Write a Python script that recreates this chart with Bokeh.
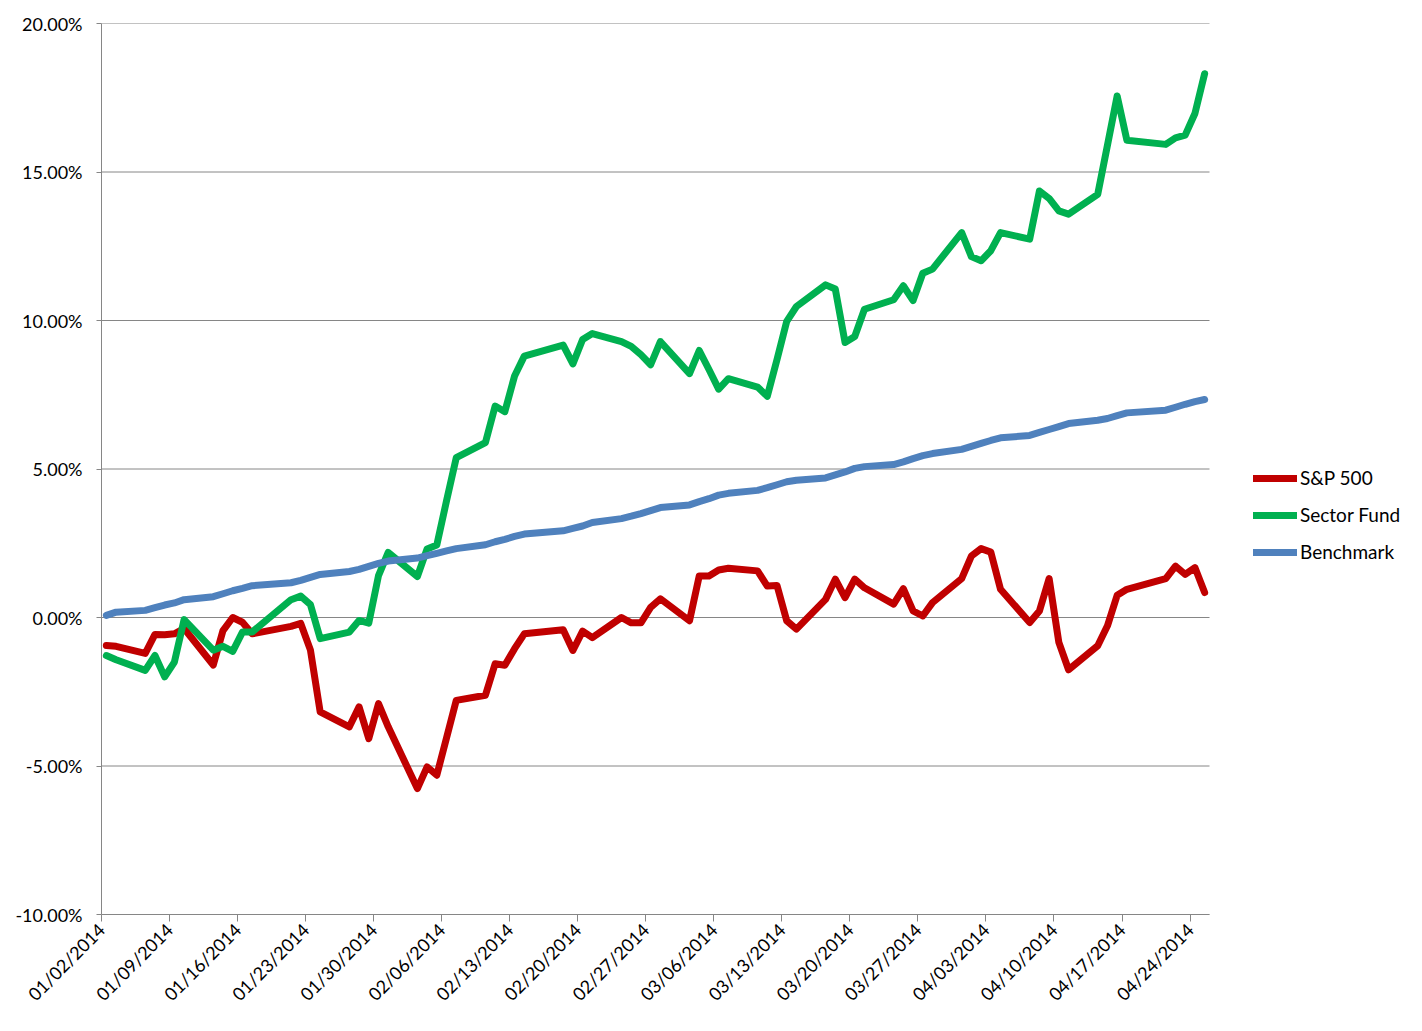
import math
import pandas as pd
from bokeh.plotting import figure
from bokeh.models import (Range1d, FixedTicker, PrintfTickFormatter, Legend,
                          LegendItem, ColumnDataSource)
from bokeh.embed import file_html
from bokeh.resources import INLINE

# ---------------- data ----------------
dates = [
    "2014-01-02", "2014-01-03", "2014-01-06", "2014-01-07", "2014-01-08", "2014-01-09", "2014-01-10",
    "2014-01-13", "2014-01-14", "2014-01-15", "2014-01-16", "2014-01-17", "2014-01-21", "2014-01-22",
    "2014-01-23", "2014-01-24", "2014-01-27", "2014-01-28", "2014-01-29", "2014-01-30", "2014-01-31",
    "2014-02-03", "2014-02-04", "2014-02-05", "2014-02-06", "2014-02-07", "2014-02-10", "2014-02-11",
    "2014-02-12", "2014-02-13", "2014-02-14", "2014-02-18", "2014-02-19", "2014-02-20", "2014-02-21",
    "2014-02-24", "2014-02-25", "2014-02-26", "2014-02-27", "2014-02-28",
    "2014-03-03", "2014-03-04", "2014-03-05", "2014-03-06", "2014-03-07", "2014-03-10", "2014-03-11",
    "2014-03-12", "2014-03-13", "2014-03-14", "2014-03-17", "2014-03-18", "2014-03-19", "2014-03-20",
    "2014-03-21", "2014-03-24", "2014-03-25", "2014-03-26", "2014-03-27", "2014-03-28", "2014-03-31",
    "2014-04-01", "2014-04-02", "2014-04-03", "2014-04-04", "2014-04-07", "2014-04-08", "2014-04-09",
    "2014-04-10", "2014-04-11", "2014-04-14", "2014-04-15", "2014-04-16", "2014-04-17", "2014-04-21",
    "2014-04-22", "2014-04-23", "2014-04-24", "2014-04-25",
]

sp500 = [
    -0.94, -0.97, -1.21, -0.57, -0.58, -0.55, -0.37, -1.60, -0.44, 0.00, -0.16, -0.55, -0.30, -0.20,
    -1.10, -3.18, -3.68, -3.01, -4.08, -2.90, -3.68,
    -5.76, -5.03, -5.31, -4.05, -2.79, -2.62, -1.56, -1.61, -1.05, -0.55, -0.41, -1.11, -0.46, -0.68,
    0.00, -0.18, -0.18, 0.34, 0.63,
    -0.11, 1.40, 1.40, 1.60, 1.66, 1.57, 1.06, 1.08, -0.11, -0.39, 0.61, 1.29, 0.67, 1.29,
    1.00, 0.45, 0.97, 0.22, 0.05, 0.50, 1.31,
    2.07, 2.32, 2.20, 0.95, -0.17, 0.22, 1.31, -0.84, -1.76, -0.95, -0.28, 0.75, 0.95, 1.31,
    1.73, 1.45, 1.68, 0.84,
]

sector_fund = [
    -1.28, -1.42, -1.78, -1.28, -2.00, -1.50, -0.07, -1.10, -0.97, -1.14, -0.49, -0.49, 0.60, 0.72,
    0.43, -0.71, -0.49, -0.10, -0.19, 1.41, 2.19,
    1.38, 2.31, 2.44, 3.93, 5.38, 5.89, 7.12, 6.93, 8.13, 8.80, 9.17, 8.54, 9.36, 9.56,
    9.29, 9.13, 8.85, 8.51, 9.29,
    8.21, 8.99, 8.35, 7.69, 8.04, 7.76, 7.45, 8.68, 9.97, 10.47, 11.20, 11.06, 9.26, 9.46,
    10.38, 10.70, 11.17, 10.67, 11.59, 11.73, 12.96,
    12.15, 12.01, 12.35, 12.96, 12.74, 14.36, 14.11, 13.69, 13.58, 14.25, 15.90, 17.56, 16.07, 15.93,
    16.15, 16.24, 16.97, 18.31,
]

benchmark = [
    0.07, 0.18, 0.24, 0.33, 0.42, 0.49, 0.60, 0.70, 0.80, 0.90, 0.98, 1.07, 1.17, 1.25,
    1.35, 1.45, 1.55, 1.62, 1.72, 1.82, 1.90,
    2.00, 2.08, 2.16, 2.24, 2.32, 2.45, 2.55, 2.63, 2.73, 2.81, 2.92, 3.00, 3.08, 3.20,
    3.33, 3.41, 3.50, 3.60, 3.70,
    3.79, 3.90, 4.00, 4.12, 4.18, 4.28, 4.37, 4.47, 4.57, 4.62, 4.70, 4.80, 4.90, 5.02,
    5.08, 5.15, 5.24, 5.35, 5.45, 5.52, 5.66,
    5.76, 5.86, 5.96, 6.05, 6.13, 6.23, 6.33, 6.43, 6.53, 6.64, 6.70, 6.80, 6.89, 6.98,
    7.08, 7.18, 7.27, 7.34,
]

x_tick_labels = [
    "01/02/2014", "01/09/2014", "01/16/2014", "01/23/2014", "01/30/2014", "02/06/2014",
    "02/13/2014", "02/20/2014", "02/27/2014", "03/06/2014", "03/13/2014", "03/20/2014",
    "03/27/2014", "04/03/2014", "04/10/2014", "04/17/2014", "04/24/2014",
]
y_ticks = [-10, -5, 0, 5, 10, 15, 20]

series_names = ["S&P 500", "Sector Fund", "Benchmark"]
series_colors = ["#C00000", "#00B050", "#4F81BD"]

# ---------------- build ----------------
start = pd.Timestamp("2014-01-02")
day_pos = [(pd.Timestamp(d) - start).days + 0.5 for d in dates]   # centre of each day slot
tick_pos = [(pd.to_datetime(l, format="%m/%d/%Y") - start).days for l in x_tick_labels]
last_day = (pd.Timestamp(dates[-1]) - start).days + 1

src = ColumnDataSource(dict(x=day_pos, sp=sp500, sf=sector_fund, bm=benchmark))

W, H = 1406, 1015
BL, BT, BB = 101, 23, 100
plot_px = 1108                       # width of the data area in pixels
frame_w = W - BL                     # frame runs to the right edge (legend lives there)
x_end = last_day * frame_w / plot_px

p = figure(width=W, height=H, output_backend="svg", toolbar_location=None,
           x_range=Range1d(0, x_end), y_range=Range1d(-10, 20),
           min_border_left=BL, min_border_right=0, min_border_top=BT,
           min_border_bottom=BB)
p.outline_line_color = None
p.background_fill_color = "white"
p.border_fill_color = "white"

grey = "#868686"
font = "Lato"

# horizontal grid lines limited to the data area
p.segment(x0=[0] * len(y_ticks), x1=[last_day] * len(y_ticks), y0=y_ticks, y1=y_ticks,
          line_color=grey, line_width=1)

renderers = []
for col, color in zip(["sp", "sf", "bm"], series_colors):
    r = p.line("x", col, source=src, line_color=color, line_width=7,
               line_join="round", line_cap="round")
    renderers.append(r)

# y axis
p.yaxis.ticker = FixedTicker(ticks=y_ticks)
p.yaxis.formatter = PrintfTickFormatter(format="%.2f%%")
p.yaxis.axis_line_color = grey
p.yaxis.major_tick_line_color = grey
p.yaxis.minor_tick_line_color = None
p.yaxis.major_tick_in = 0
p.yaxis.major_tick_out = 5
p.yaxis.major_label_standoff = 14
p.yaxis.major_label_text_font = font
p.yaxis.major_label_text_font_size = "18px"
p.yaxis.major_label_text_color = "black"

# x axis
p.xaxis.bounds = (0, last_day)
p.xaxis.ticker = FixedTicker(ticks=tick_pos)
p.xaxis.major_label_overrides = {t: l for t, l in zip(tick_pos, x_tick_labels)}
p.xaxis.major_label_orientation = math.pi / 4
p.xaxis.axis_line_color = grey
p.xaxis.major_tick_line_color = grey
p.xaxis.minor_tick_line_color = None
p.xaxis.major_tick_in = 0
p.xaxis.major_tick_out = 7
p.xaxis.major_label_standoff = 5
p.xaxis.major_label_text_font = font
p.xaxis.major_label_text_font_size = "18px"
p.xaxis.major_label_text_color = "black"

p.xgrid.visible = False
p.ygrid.visible = False

legend = Legend(
    items=[LegendItem(label=n, renderers=[r]) for n, r in zip(series_names, renderers)],
    location=(1152, 351), orientation="vertical",
    border_line_color=None, background_fill_alpha=0,
    padding=0, margin=0, spacing=14,
    glyph_width=44, glyph_height=20, label_height=20, label_standoff=3,
    label_text_font=font, label_text_font_size="19px", label_text_color="black",
)
p.add_layout(legend, "center")

open("out.html", "w").write(file_html(p, INLINE))
